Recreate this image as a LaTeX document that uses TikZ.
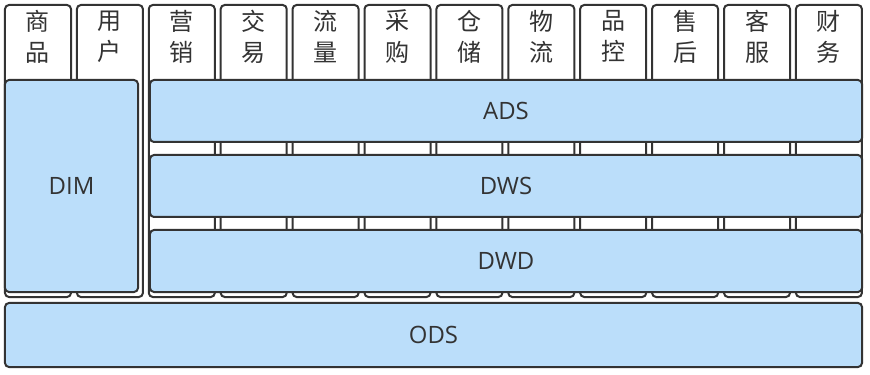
\documentclass[tikz,border=0pt]{standalone}
\usepackage{fontspec}
\setmainfont{Open Sans}
\newfontfamily\cjk{Noto Sans CJK SC}
\usepackage{tikz}
\usetikzlibrary{positioning}
\definecolor{dwLine}{HTML}{333333}
\definecolor{dwFill}{HTML}{BBDEFA}
\definecolor{dwText}{HTML}{333333}
\tikzset{
    dwBase/.style={
        rectangle,
        draw=dwLine,
        line width=0.06cm,
        rounded corners=0.12cm,
        inner sep=0pt,
        outer sep=0pt
    },
    % Business columns
    colBox/.style={dwBase, fill=white, minimum width=1.98cm, minimum height=8.76cm},
    colText/.style={font=\cjk\fontsize{20.5}{26.5}\selectfont, text=dwText, align=center, inner sep=0pt},
    % Warehouse layers
    layerBox/.style={dwBase, fill=dwFill, text=dwText, font=\fontsize{20.4}{24}\selectfont}
}
\begin{document}
\begin{tikzpicture}[x=0.03cm, y=-0.03cm]
\useasboundingbox (0,0) rectangle (870,375);
% subject columns
\foreach \lbl [count=\i from 0] in {{商\\品},{用\\户},{营\\销},{交\\易},{流\\量},{采\\购},{仓\\储},{物\\流},{品\\控},{售\\后},{客\\服},{财\\务}} {
    \node[colBox] (col\i) at ({38+71.9*\i},151) {};
    \node[colText] (lbl\i) at ({38+71.9*\i},36.5) {\lbl};
}
% layers
\node[layerBox, minimum width=21.36cm, minimum height=1.86cm] (ads) at (506,111) {ADS};
\node[layerBox, minimum width=21.36cm, minimum height=1.86cm] (dws) at (506,186) {DWS};
\node[layerBox, minimum width=21.36cm, minimum height=1.86cm] (dwd) at (506,261) {DWD};
\node[layerBox, minimum width=3.99cm, minimum height=6.36cm] (dim) at (71.5,186) {DIM};
\node[layerBox, minimum width=25.71cm, minimum height=1.92cm] (ods) at (433.5,335) {ODS};
\end{tikzpicture}
\end{document}
